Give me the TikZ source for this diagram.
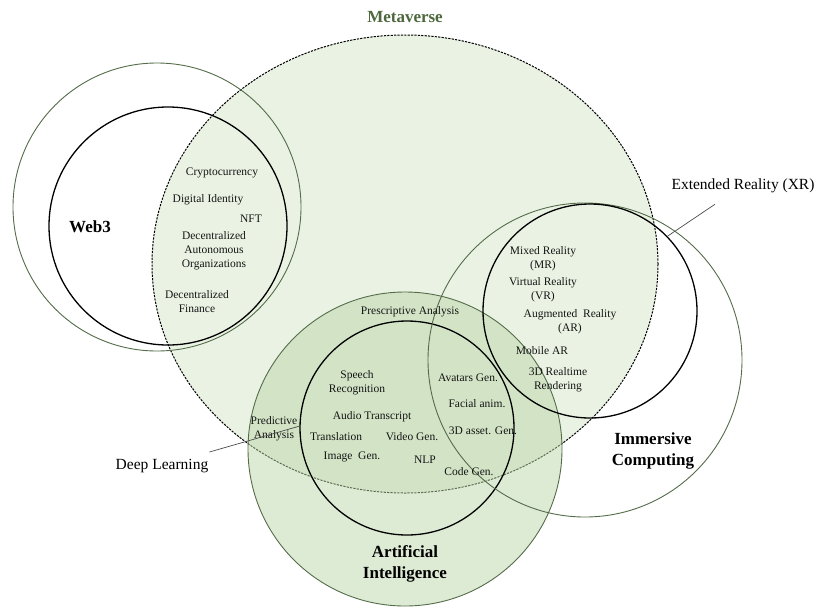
\documentclass[tikz,border=0pt]{standalone}
\usepackage{fontspec}
\setmainfont{Liberation Serif}
\usetikzlibrary{shapes.geometric, positioning}
\definecolor{metagreen}{RGB}{234,243,227}
\definecolor{aigreen}{RGB}{190,215,170}
\definecolor{ringgreen}{RGB}{84,108,74}
\definecolor{titlegreen}{RGB}{78,104,62}

\begin{document}
\begin{tikzpicture}[
    x=1pt, y=-1pt,
    metaring/.style={ellipse, draw=black, line width=1pt,
                     dash pattern=on 2.2pt off 1.2pt, fill=metagreen,
                     inner sep=0pt},
    ring/.style={circle, draw=ringgreen, line width=0.9pt, inner sep=0pt},
    core/.style={circle, draw=black, line width=1.3pt, inner sep=0pt},
    item/.style={font=\fontsize{11.5}{14}\selectfont, align=center,
                 inner sep=1pt, text=black!92},
    field/.style={font=\fontsize{17}{21}\selectfont\bfseries,
                  align=center, inner sep=1pt},
    tag/.style={font=\fontsize{15.5}{18}\selectfont, inner sep=1pt},
    pointer/.style={draw=black!70, line width=0.7pt},
]
    \useasboundingbox (0,0) rectangle (818,608);

    % sets
    \node[metaring, minimum width=506pt, minimum height=458pt] (meta) at (405,264) {};
    \node[ring, fill=aigreen, fill opacity=0.5, minimum size=314pt] (aiout) at (405,449) {};
    \node[core, minimum size=214pt] (aiin) at (407,428) {};
    \node[ring, minimum size=288pt] (web3out) at (157,207) {};
    \node[core, minimum size=238pt] (web3in) at (168,226) {};
    \node[ring, minimum size=314pt] (icout) at (585,360) {};
    \node[core, minimum size=214pt] (xr) at (590,311) {};

    % set names
    \node[field, text=titlegreen] (metaname) at (405,17) {Metaverse};
    \node[field] (web3name) at (90,227) {Web3};
    \node[field] (ainame) at (405,564) {Artificial\\Intelligence};
    \node[field] (icname) at (653,451) {Immersive\\Computing};
    \node[tag] (xrname) at (743,186) {Extended Reality (XR)};
    \node[tag] (dlname) at (162,466) {Deep Learning};

    % web3
    \node[item] (crypto) at (222,173) {Cryptocurrency};
    \node[item] (digid) at (208,200) {Digital Identity};
    \node[item] (nft) at (251,219) {NFT};
    \node[item] (dao) at (214,251) {Decentralized\\Autonomous\\Organizations};
    \node[item] (defi) at (197,302) {Decentralized\\Finance};

    % extended reality
    \node[item] (mr) at (543,259) {Mixed Reality\\(MR)};
    \node[item] (vr) at (543,290) {Virtual Reality\\(VR)};
    \node[item] (ar) at (570,322) {Augmented\ \ Reality\\(AR)};
    \node[item] (mobar) at (542,351) {Mobile AR};
    \node[item] (render) at (558,380) {3D Realtime\\Rendering};

    % artificial intelligence
    \node[item] (presc) at (410,312) {Prescriptive Analysis};
    \node[item] (pred) at (274,429) {Predictive\\Analysis};
    \node[item] (speech) at (357,383) {Speech\\Recognition};
    \node[item] (audio) at (372,417) {Audio Transcript};
    \node[item] (transl) at (336,437) {Translation};
    \node[item] (video) at (412,437) {Video Gen.};
    \node[item] (image) at (352,457) {Image\ \ Gen.};
    \node[item] (nlp) at (425,460) {NLP};
    \node[item] (avatar) at (468,378) {Avatars Gen.};
    \node[item] (facial) at (477,404) {Facial anim.};
    \node[item] (asset) at (483,431) {3D asset. Gen.};
    \node[item] (code) at (469,472) {Code Gen.};

    % pointers
    \draw[pointer] ([shift={(-28,10)}]xrname.south) -- (xr.44);
    \draw[pointer] ([shift={(0,-6)}]dlname.north east) -- (aiin.179);
\end{tikzpicture}
\end{document}
